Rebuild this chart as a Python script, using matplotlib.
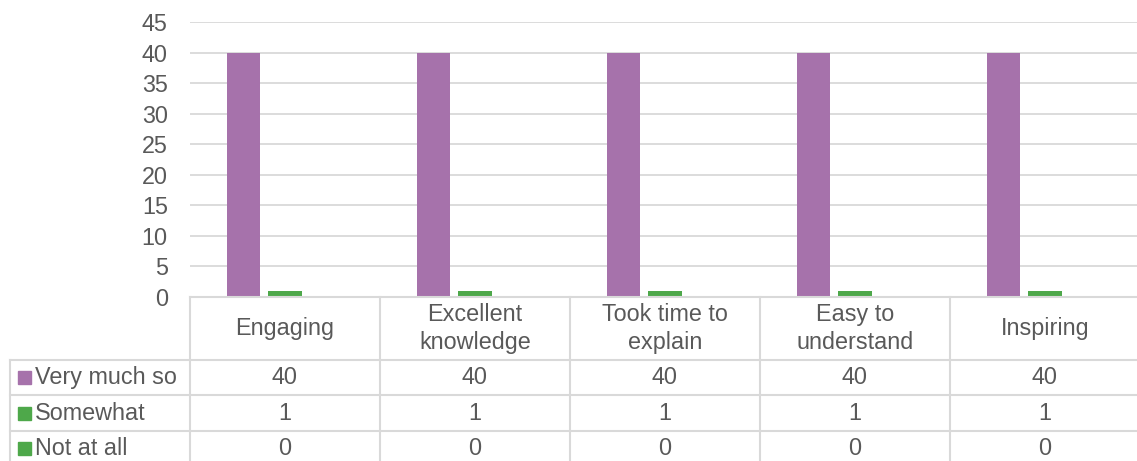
import matplotlib.pyplot as plt
import numpy as np

plt.rcParams['font.family'] = ['Liberation Sans', 'DejaVu Sans']

categories = ['Engaging', 'Excellent\nknowledge', 'Took time to\nexplain', 'Easy to\nunderstand', 'Inspiring']
series_names = ['Very much so', 'Somewhat', 'Not at all']
very_much = [40, 40, 40, 40, 40]
somewhat = [1, 1, 1, 1, 1]
not_at_all = [0, 0, 0, 0, 0]
colors = ['#A672AB', '#4EA84A', '#4EA84A']
series = [very_much, somewhat, not_at_all]

W, H = 1137, 461
txt = '#595959'
grid = '#D9D9D9'
fs = 16.8

fig = plt.figure(figsize=(W / 100, H / 100), dpi=100)

# bar area: 190..1140 px wide, 22..297 px tall
left, right, top, bottom = 190, 1140, 22, 297
ax = fig.add_axes([left / W, 1 - bottom / H, (right - left) / W, (bottom - top) / H])
x = np.arange(len(categories))
bw = 0.175
for i, (vals, c) in enumerate(zip(series, colors)):
    ax.bar(x + (i - 1) * 0.22, vals, bw, color=c, zorder=3)
ax.set_xlim(-0.5, len(categories) - 0.5)
ax.set_ylim(0, 45)
ax.set_yticks(range(0, 46, 5))
ax.yaxis.grid(True, color=grid, lw=1.3, zorder=0)
ax.set_xticks([])
ax.tick_params(axis='y', length=0, pad=16, labelsize=fs, labelcolor=txt)
for s in ax.spines.values():
    s.set_visible(False)

# data table below the plot, drawn in pixel coordinates
tb = fig.add_axes([0, 0, 1, 1])
tb.set_xlim(0, W)
tb.set_ylim(H, 0)
tb.axis('off')
col_w = (right - left) / len(categories)
row_y = [297, 360, 395, 431, 470]
for i in range(len(categories) + 1):
    xc = left + i * col_w
    tb.plot([xc, xc], [row_y[0], H], color=grid, lw=1.5)
tb.plot([10, 10], [row_y[1], H], color=grid, lw=1.5)
tb.plot([left, W], [row_y[0], row_y[0]], color=grid, lw=1.5)
for yy in row_y[1:4]:
    tb.plot([10, W], [yy, yy], color=grid, lw=1.5)
for i, cat in enumerate(categories):
    tb.text(left + (i + 0.5) * col_w, (row_y[0] + row_y[1]) / 2, cat,
            ha='center', va='center', fontsize=fs, color=txt, linespacing=1.3)
for r, (name, vals, c) in enumerate(zip(series_names, series, colors)):
    yc = (row_y[r + 1] + row_y[r + 2]) / 2 if r < 2 else 448
    tb.add_patch(plt.Rectangle((18, yc - 6.5), 13, 13, color=c))
    tb.text(35, yc, name, ha='left', va='center', fontsize=fs, color=txt)
    for i, v in enumerate(vals):
        tb.text(left + (i + 0.5) * col_w, yc, str(v), ha='center', va='center',
                fontsize=fs, color=txt)

fig.savefig('out.png', dpi=100)
